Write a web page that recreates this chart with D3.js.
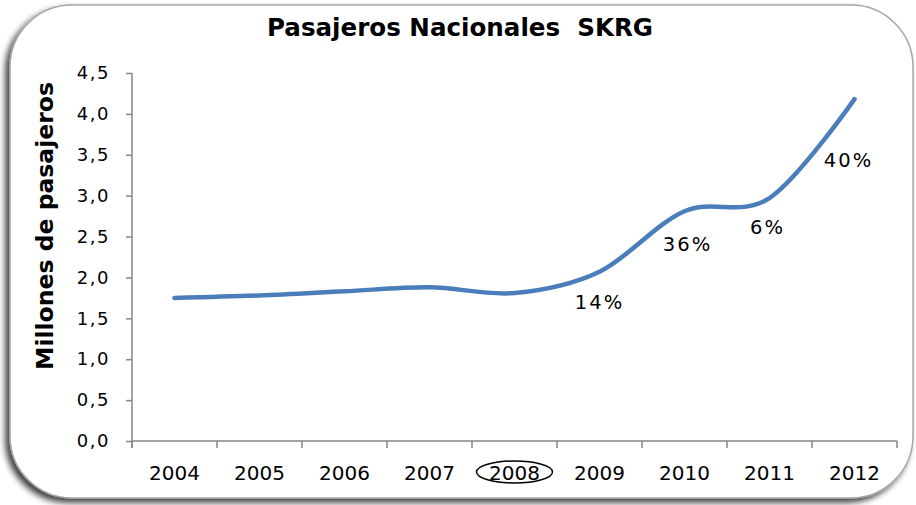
<!DOCTYPE html>
<html>
<head>
<meta charset="utf-8">
<script src="https://cdn.jsdelivr.net/npm/d3@7"></script>
<style>
  html, body { margin: 0; padding: 0; background: #ffffff; }
  svg { display: block; }
  text { font-family: "DejaVu Sans", Verdana, sans-serif; fill: #000; }
</style>
</head>
<body>
<svg id="chart" width="916" height="505"></svg>
<script>
// ---- data ----
const years = ["2004", "2005", "2006", "2007", "2008", "2009", "2010", "2011", "2012"];
const passengers = [1.75, 1.78, 1.83, 1.88, 1.81, 2.07, 2.81, 2.97, 4.18];
const yTicks = [0, 0.5, 1, 1.5, 2, 2.5, 3, 3.5, 4, 4.5];
const growthYears = ["2009", "2010", "2011", "2012"];
const growthLabels = ["14%", "36%", "6%", "40%"];
const highlightedYear = "2008";
const chartTitle = "Pasajeros Nacionales  SKRG";
const yAxisTitle = "Millones de pasajeros";

// ---- layout ----
const W = 916, H = 505;
const plot = { left: 132, right: 897, top: 73, bottom: 441 };
const labelOffsets = [[0, 37], [3, 40], [-2, 36], [-6, 68]];

const svg = d3.select("#chart");

// frame with shadow
const defs = svg.append("defs");
const f = defs.append("filter").attr("id", "shadow")
  .attr("x", "-5%").attr("y", "-5%").attr("width", "110%").attr("height", "110%");
f.append("feGaussianBlur").attr("in", "SourceAlpha").attr("stdDeviation", 3).attr("result", "b");
f.append("feOffset").attr("in", "b").attr("dx", -4).attr("dy", 4).attr("result", "o");
f.append("feComponentTransfer").attr("in", "o").attr("result", "o2")
  .append("feFuncA").attr("type", "linear").attr("slope", 0.75);
const m = f.append("feMerge");
m.append("feMergeNode").attr("in", "o2");
m.append("feMergeNode").attr("in", "SourceGraphic");

svg.append("rect")
  .attr("x", 10).attr("y", 5).attr("width", 903).attr("height", 493)
  .attr("rx", 62).attr("ry", 62)
  .attr("fill", "#ffffff").attr("stroke", "#a6a6a6").attr("stroke-width", 1.5)
  .attr("filter", "url(#shadow)");

// scales
const x = d3.scalePoint().domain(years).range([plot.left, plot.right]).padding(0.5);
const y = d3.scaleLinear().domain([0, 4.5]).range([plot.bottom, plot.top]);

const axisColor = "#868686";

// y axis
const yAxis = d3.axisLeft(y).tickValues(yTicks).tickSize(6).tickPadding(16)
  .tickFormat(d => d3.format(".1f")(d).replace(".", ","));
const gy = svg.append("g").attr("transform", `translate(${plot.left},0)`).call(yAxis);
gy.select(".domain").attr("stroke", axisColor).attr("stroke-width", 1.5)
  .attr("d", `M0,${plot.top}V${plot.bottom + 7}`);
gy.selectAll(".tick line").attr("stroke", axisColor).attr("stroke-width", 1.5);
gy.selectAll(".tick text").attr("font-size", 18).attr("letter-spacing", 1.5)
  .attr("font-family", "DejaVu Sans").attr("fill", "#000");

// x axis
const gx = svg.append("g").attr("transform", `translate(0,${plot.bottom})`);
gx.append("path").attr("fill", "none").attr("stroke", axisColor).attr("stroke-width", 1.5)
  .attr("d", `M${plot.left},0H${plot.right}`);
const bw = x.step();
const bounds = years.map((d, i) => x(d) - bw / 2).concat([x(years[years.length - 1]) + bw / 2]);
gx.selectAll("line.xt").data(bounds).enter().append("line")
  .attr("x1", d => d).attr("x2", d => d).attr("y1", 0).attr("y2", 7)
  .attr("stroke", axisColor).attr("stroke-width", 1.5);
gx.selectAll("text.xl").data(years).enter().append("text")
  .attr("x", d => x(d)).attr("y", 39).attr("text-anchor", "middle")
  .attr("font-size", 20).text(d => d);

// highlight ellipse around year
svg.append("ellipse")
  .attr("cx", x(highlightedYear)).attr("cy", 472).attr("rx", 38).attr("ry", 11)
  .attr("fill", "none").attr("stroke", "#000").attr("stroke-width", 1.5);

// line
const line = d3.line().x((d, i) => x(years[i])).y(d => y(d)).curve(d3.curveCardinal.tension(0));
svg.append("path").datum(passengers)
  .attr("d", line).attr("fill", "none").attr("stroke", "#4a7ebb")
  .attr("stroke-width", 4.5).attr("stroke-linecap", "round").attr("stroke-linejoin", "round");

// growth labels
growthYears.forEach((yr, i) => {
  const v = passengers[years.indexOf(yr)];
  svg.append("text")
    .attr("x", x(yr) + labelOffsets[i][0]).attr("y", y(v) + labelOffsets[i][1])
    .attr("text-anchor", "middle").attr("font-size", 19.5).attr("letter-spacing", 2)
    .text(growthLabels[i]);
});

// titles
svg.append("text")
  .attr("x", 460).attr("y", 36).attr("text-anchor", "middle")
  .attr("font-size", 24).attr("font-weight", "bold")
  .attr("textLength", 386).attr("lengthAdjust", "spacingAndGlyphs")
  .style("white-space", "pre")
  .text(chartTitle);

svg.append("text")
  .attr("transform", `translate(53,226) rotate(-90)`)
  .attr("text-anchor", "middle").attr("font-size", 23).attr("font-weight", "bold")
  .attr("textLength", 288).attr("lengthAdjust", "spacingAndGlyphs")
  .text(yAxisTitle);
</script>
</body>
</html>
